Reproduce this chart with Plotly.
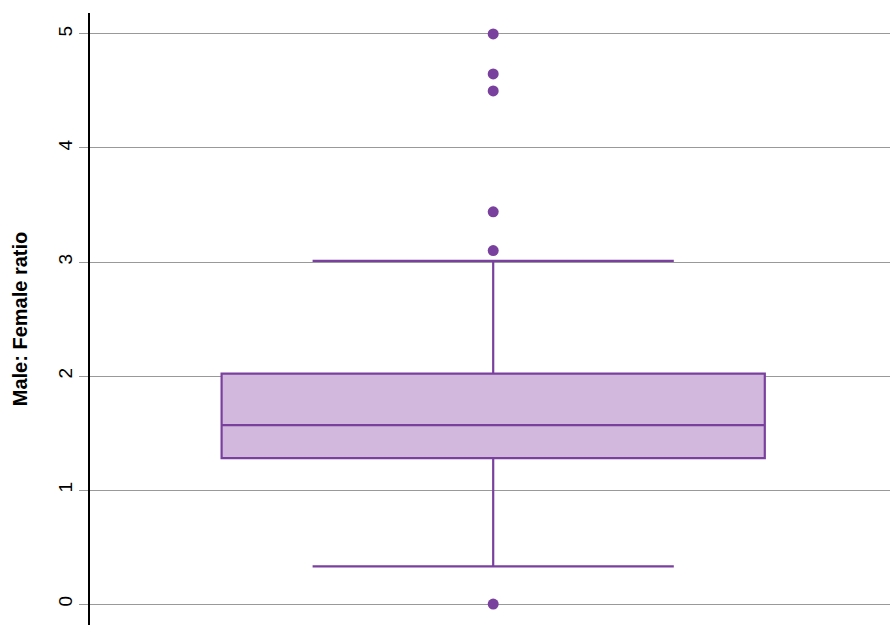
import plotly.graph_objects as go

category = ["Male: Female ratio"]
q1 = [1.28]
median = [1.57]
q3 = [2.02]
lower_fence = [0.33]
upper_fence = [3.01]
outliers = [5.0, 4.65, 4.5, 3.44, 3.1, 0.0]
y_ticks = [0, 1, 2, 3, 4, 5]

LINE = "#7A409E"
FILL = "#D1B8DC"

fig = go.Figure()
fig.add_trace(go.Box(
    x=[0], q1=q1, median=median, q3=q3,
    lowerfence=lower_fence, upperfence=upper_fence,
    boxpoints=False, width=0.679, whiskerwidth=0.665,
    line=dict(color=LINE, width=2.2), fillcolor=FILL,
    showlegend=False, hoverinfo="skip",
))
fig.add_trace(go.Scatter(
    x=[0] * len(outliers), y=outliers, mode="markers",
    marker=dict(color=LINE, size=11), showlegend=False,
))
fig.update_layout(
    width=890, height=625,
    margin=dict(l=90, r=0, t=13, b=0, autoexpand=False),
    plot_bgcolor="white", paper_bgcolor="white",
    font=dict(family="Liberation Sans, Arial, sans-serif", color="black"),
    xaxis=dict(range=[-0.504, 0.496], showticklabels=False, showgrid=False,
               zeroline=False, showline=False, ticks=""),
    yaxis=dict(range=[-0.184, 5.184], tickvals=y_ticks, ticktext=[str(v) for v in y_ticks],
               tickangle=-90, tickfont=dict(size=19, color="black"),
               showgrid=True, gridcolor="#999999", gridwidth=1,
               zeroline=False, showline=True, linecolor="black", linewidth=1.5,
               ticks="outside", ticklen=9, tickcolor="#999999", tickwidth=1,
               title=dict(text="<b>Male: Female ratio</b>", font=dict(size=20, color="black"), standoff=22)),
)
fig.write_html("out.html", config={"displayModeBar": False},
               post_script="document.body.style.margin='0';document.body.style.overflow='hidden';")
